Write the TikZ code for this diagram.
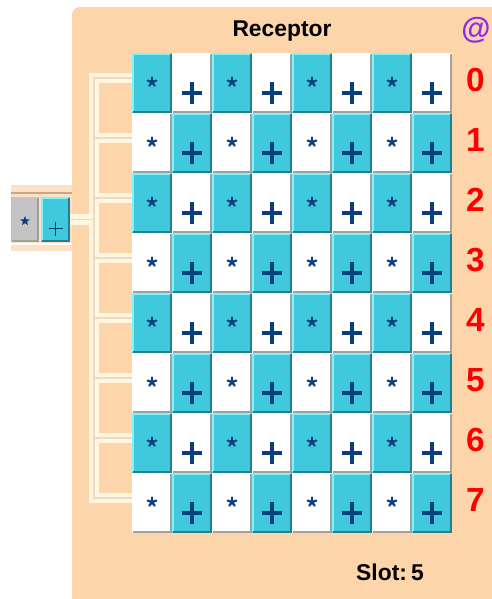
\documentclass[tikz,border=0pt]{standalone}
\usepackage{fontspec}
\setmainfont{Liberation Sans}
\usetikzlibrary{calc, shapes.geometric}
\definecolor{peach}{HTML}{FCD5AA}
\definecolor{bandpeach}{HTML}{FBE2C6}
\definecolor{bandline}{HTML}{C9A785}
\definecolor{buscream}{HTML}{FFF6E0}
\definecolor{busline}{HTML}{EFD9C0}
\definecolor{cyancell}{HTML}{40C8DC}
\definecolor{cyanlight}{HTML}{80F2FC}
\definecolor{cyandark}{HTML}{237F8E}
\definecolor{graycell}{HTML}{A0A0A0}
\definecolor{greycell}{HTML}{C4C4C4}
\definecolor{markblue}{HTML}{0C3F7E}
\definecolor{atpurple}{HTML}{9028F0}
\tikzset{
  cell/.style={rectangle, inner sep=0pt, minimum width=0.8cm, minimum height=1.2cm, fill=#1},
  plusline/.style={line width=2.2pt, markblue},
  starline/.style={line width=1.3pt, markblue, line cap=round},
  digit/.style={text=red, font=\fontsize{19}{19}\selectfont\bfseries},
  headtext/.style={font=\fontsize{13}{13}\selectfont\bfseries},
  pics/plussign/.style={code={\draw[plusline] (-10,0) -- (10,0) (0,-11) -- (0,11);}},
  pics/astsign/.style={code={\foreach \a in {270,342,54,126,198} \draw[starline] (0,0) -- (\a:4.5);}},
}

\begin{document}
\begin{tikzpicture}[x=0.02cm, y=-0.02cm]
  \useasboundingbox (0,0) rectangle (492,599);
  \fill[white] (0,0) rectangle (492,599);
  \fill[peach, rounded corners=4.5pt] (72,7) rectangle (530,640);

  \node[headtext] (title) at (282,31) {Receptor};
  \node[text=atpurple, font=\fontsize{17}{17}\selectfont\bfseries] (at) at (476,30) {@};
  \node[headtext] (slot) at (390,572) {Slot:\hspace{0.18em}5};

  \foreach \r in {0,...,7}{
    \foreach \c in {0,...,7}{
      \ifodd\numexpr\r+\c\relax \def\kind{white}\def\lit{white}\def\edge{graycell}
      \else \def\kind{cyancell}\def\lit{cyanlight}\def\edge{cyandark}\fi
      \node[cell=\kind] (c\r\c) at (152+40*\c, 83+60*\r) {};
      \draw[line width=1.1pt, \lit] ([xshift=.55pt,yshift=.55pt]c\r\c.south west) |- ([xshift=-.55pt,yshift=-.55pt]c\r\c.north east);
      \draw[line width=1.1pt, \edge] ([xshift=.55pt,yshift=.55pt]c\r\c.south west) -| ([xshift=-.55pt,yshift=-.55pt]c\r\c.north east);
      \ifodd\c \pic at ($(c\r\c)+(0,10)$) {plussign};
      \else \pic at ($(c\r\c)+(0,-1)$) {astsign};
      \fi
    }
    \node[digit] (n\r) at ($(c\r7.east)+(23,-3)$) {\r};
  }

  \fill[bandpeach] (11,185) rectangle (72,251);
  \draw[bandline, line width=.8pt] (11,193) -- (72,193);
  \draw[white, line width=.8pt] (11,244) -- (72,244);
  \node[cell=greycell, minimum width=0.56cm, minimum height=0.9cm] (wstar) at (25,219.5) {};
  \node[cell=cyancell, minimum width=0.58cm, minimum height=0.9cm] (wplus) at (55.5,219.5) {};
  \draw[line width=1.1pt, graycell] ([xshift=.55pt,yshift=.55pt]wstar.south west) -| ([xshift=-.55pt,yshift=-.55pt]wstar.north east);
  \draw[line width=1.1pt, cyanlight] ([xshift=.55pt,yshift=.55pt]wplus.south west) |- ([xshift=-.55pt,yshift=-.55pt]wplus.north east);
  \draw[line width=1.1pt, cyandark] ([xshift=.55pt,yshift=.55pt]wplus.south west) -| ([xshift=-.55pt,yshift=-.55pt]wplus.north east);
  \node[star, star points=5, star point ratio=2.3, fill=markblue, inner sep=0pt, minimum size=0.2cm] (wst) at (25,221) {};
  \draw[markblue, line width=1.1pt] ($(wplus)+(-7,9)$) -- ($(wplus)+(7,9)$) ($(wplus)+(0,2)$) -- ($(wplus)+(0,16)$);

  \coordinate (trunk) at (94,0);
  \foreach \w/\col in {5.7pt/buscream, 1.1pt/busline}{
    \draw[line width=\w, \col] ($(c00.west)+(0,-5)$) -| ($(c70.west -| trunk)+(0,-5)$) -- ($(c70.west)+(0,-5)$);
    \foreach \r in {1,...,6} \draw[line width=\w, \col] ($(c\r0.west -| trunk)+(0,-5)$) -- ($(c\r0.west)+(0,-5)$);
    \draw[line width=\w, \col] (wplus.east) -- (wplus.east -| trunk);
  }
\end{tikzpicture}
\end{document}
